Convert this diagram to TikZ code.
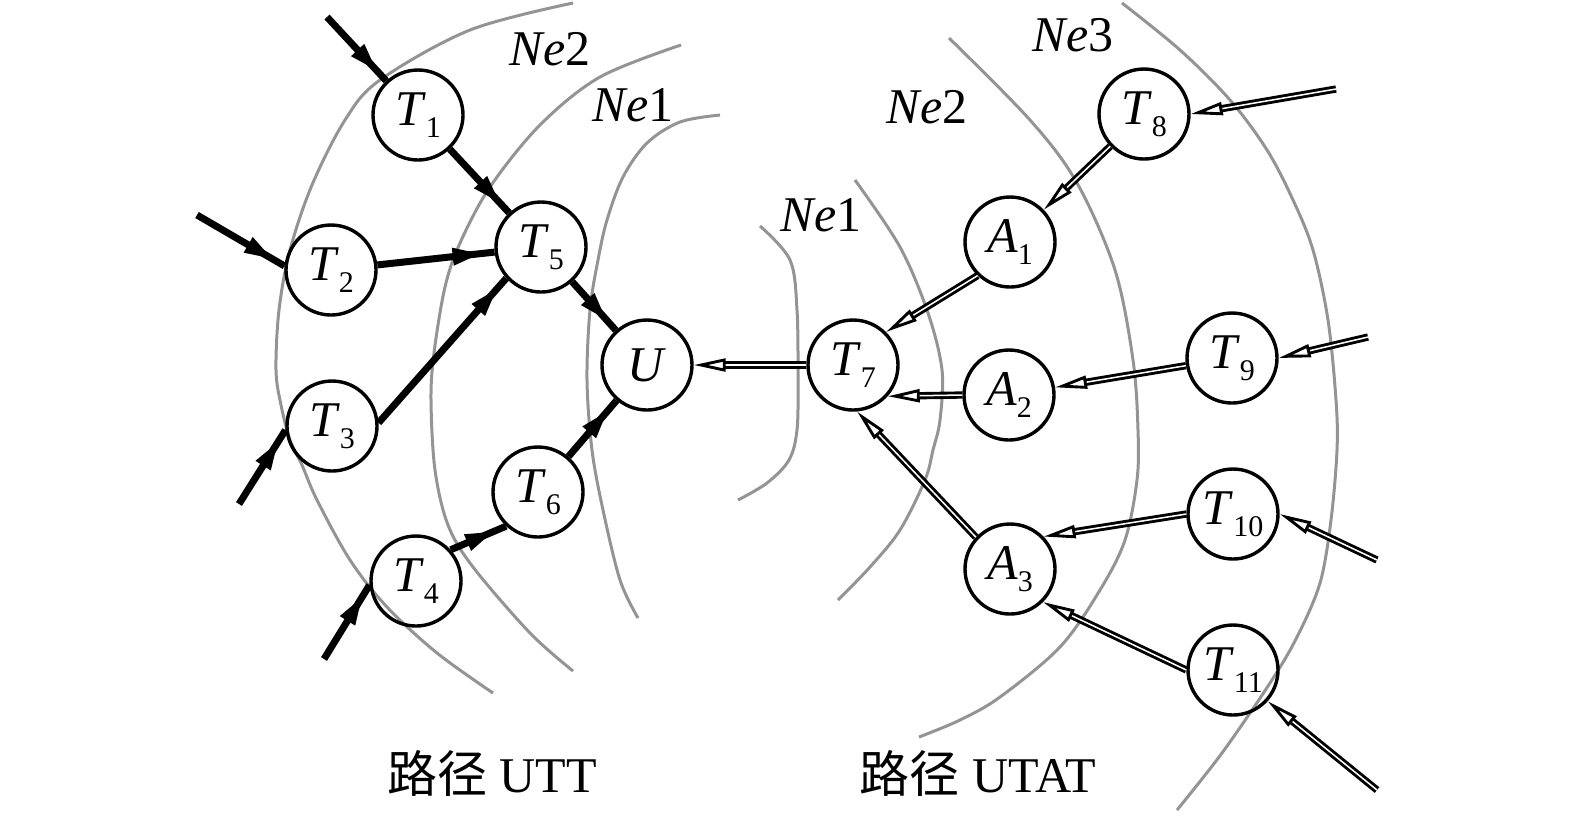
\documentclass[tikz,border=0pt]{standalone}
\usepackage{fontspec}
\setmainfont{Liberation Serif}
\newfontfamily\cjk{Noto Sans CJK SC}
\usetikzlibrary{arrows.meta,decorations.markings}
\newcommand\vlab[2]{\textit{#1}\raisebox{-3pt}{\fontsize{7.5}{8}\selectfont #2}}
\begin{document}
\begin{tikzpicture}[x=0.25pt,y=-0.25pt,
  vtx/.style={circle,draw,line width=0.85pt,minimum size=22.5pt,inner sep=0pt,font=\fontsize{12.5}{14}\selectfont},
  ringline/.style={draw=black!42,line width=0.75pt},
  thk/.style={line width=1.75pt,postaction={decorate},
    decoration={markings,mark=at position -3pt with {\arrow{Triangle[length=7.5pt,width=3.9pt]}}}},
  dbl/.style={double,double distance=0.38pt,line width=0.72pt,-{Triangle[open,length=8pt,width=3.2pt]}},
  lbl/.style={anchor=base,font=\fontsize{12.5}{14}\selectfont},
]
\useasboundingbox (0,0) rectangle (1575,817);

% rings
\draw[ringline] plot[smooth,tension=0.55] coordinates {(573,3) (470,30) (380,80) (345,120) (312,185) (290,250) (279,310) (276,370) (281,405) (290,440) (302,465) (317,500) (350,560) (387,607) (437,653) (493,693)};
\draw[ringline] plot[smooth,tension=0.55] coordinates {(681,45) (600,77) (540,125) (490,187) (460,243) (445,287) (434,353) (431,400) (435,470) (448,525) (473,567) (530,633) (573,671)};
\draw[ringline] plot[smooth,tension=0.55] coordinates {(720,115) (680,122) (647,143) (623,177) (607,220) (598,260) (590,310) (587,380) (592,450) (603,510) (620,580) (638,618)};
\draw[ringline] plot[smooth,tension=0.55] coordinates {(760,226) (790,260) (797,310) (798,380) (797,430) (789,460) (767,483) (738,500)};
\draw[ringline] plot[smooth,tension=0.55] coordinates {(855,180) (900,247) (928,313) (942,370) (940,420) (933,450) (925,480) (900,530) (870,567) (838,600)};
\draw[ringline] plot[smooth,tension=0.55] coordinates {(949,38) (1030,120) (1077,183) (1115,270) (1133,360) (1138,430) (1137,480) (1125,540) (1100,590) (1060,647) (1000,697) (960,720) (919,737)};
\draw[ringline] plot[smooth,tension=0.55] coordinates {(1122,3) (1180,50) (1230,100) (1267,150) (1293,200) (1313,250) (1328,320) (1336,400) (1337,450) (1331,520) (1320,583) (1297,637) (1270,683) (1222,753) (1177,810)};

% nodes
\node[vtx] (T1) at (418,115) {\vlab{T}{1}};
\node[vtx] (T2) at (331,270) {\vlab{T}{2}};
\node[vtx] (T3) at (332,426) {\vlab{T}{3}};
\node[vtx] (T4) at (416,581) {\vlab{T}{4}};
\node[vtx] (T5) at (541,247) {\vlab{T}{5}};
\node[vtx] (T6) at (538,492) {\vlab{T}{6}};
\node[vtx] (U) at (647,365) {\textit{U}};
\node[vtx] (T7) at (853,365) {\vlab{T}{7}};
\node[vtx] (A1) at (1010,242) {\vlab{A}{1}};
\node[vtx] (A2) at (1009,395) {\vlab{A}{2}};
\node[vtx] (A3) at (1010,569) {\vlab{A}{3}};
\node[vtx] (T8) at (1144,114) {\vlab{T}{8}};
\node[vtx] (T9) at (1232,358) {\vlab{T}{9}};
\node[vtx] (T10) at (1233,514) {\vlab{T}{10}};
\node[vtx] (T11) at (1233,670) {\vlab{T}{11}};

\coordinate (i1) at (327,17);
\coordinate (i2) at (197,215);
\coordinate (i3) at (239,504);
\coordinate (i4) at (324,659);
\coordinate (i8) at (1336,89);
\coordinate (i9) at (1368,337);
\coordinate (i10) at (1377,560);
\coordinate (i11) at (1377,790);

% thick arrows
\draw[thk] (i1) -- (T1);
\draw[thk] (i2) -- (T2.175);
\draw[thk] (i3) -- (T3.185);
\draw[thk] (i4) -- (T4.185);
\draw[thk] (T1) -- (T5);
\draw[thk] (T2) -- (T5);
\draw[thk] (T3.4) -- (T5.222);
\draw[thk] (T5) -- (U);
\draw[thk] (T6) -- (U);
\draw[thk] (T4.42) -- (T6.-133);

% double arrows
\draw[dbl] (T7) -- (U);
\draw[dbl] (A1.226) -- (T7.45);
\draw[dbl] (A2.180) -- (T7.-42);
\draw[dbl] (A3.137) -- (T7.-85);
\draw[dbl] (T8) -- (A1);
\draw[dbl] (T9) -- (A2);
\draw[dbl] (T10.180) -- (A3.44);
\draw[dbl] (T11.180) -- (A3.-45);
\draw[dbl] (i8) -- (T8.0);
\draw[dbl] (i9) -- (T9.0);
\draw[dbl] (i10) -- (T10.0);
\draw[dbl] (i11) -- (T11.-42);

% labels
\node[lbl] (ne2l) at (550,65) {\textit{Ne}2};
\node[lbl] (ne1l) at (633,121) {\textit{Ne}1};
\node[lbl] (ne3r) at (1073,51) {\textit{Ne}3};
\node[lbl] (ne2r) at (927,123) {\textit{Ne}2};
\node[lbl] (ne1r) at (821,231) {\textit{Ne}1};
\node[lbl] (cap1) at (492,792) {{\cjk 路径} UTT};
\node[lbl] (cap2) at (978,792) {{\cjk 路径} UTAT};
\end{tikzpicture}
\end{document}
